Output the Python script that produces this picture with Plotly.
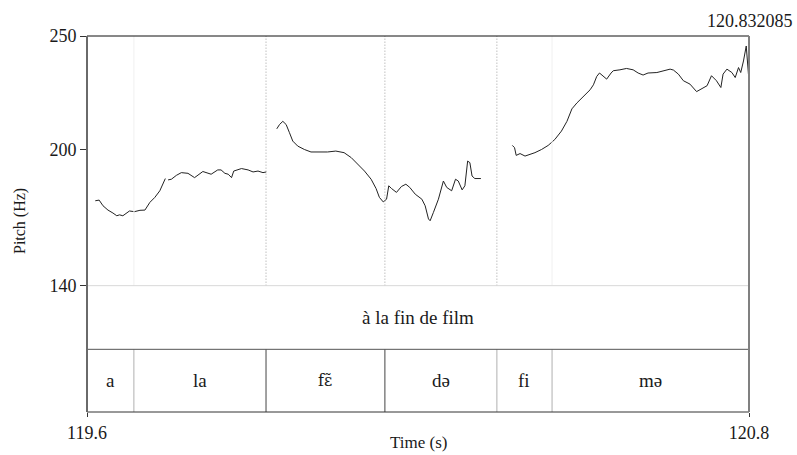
import plotly.graph_objects as go

# ---- data ----
# pitch contour (time in s, F0 in Hz); None marks unvoiced gaps
seg1_t = [119.615, 119.622, 119.629, 119.638, 119.647, 119.654, 119.659, 119.665, 119.677, 119.686,
          119.696, 119.705, 119.714, 119.723, 119.732, 119.738, 119.742, None, 119.747, 119.753,
          119.762, 119.771, 119.783, 119.795, 119.810, 119.825, 119.837, 119.843, 119.850, 119.856,
          119.862, 119.866, 119.880, 119.892, 119.901, 119.910, 119.919, 119.925]
seg1_f = [177.4, 177.7, 175.2, 173.3, 172.0, 170.8, 171.2, 170.8, 172.9, 172.6,
          173.2, 173.3, 176.7, 178.9, 181.8, 185.4, 187.2, None, 186.6, 186.9,
          188.6, 189.8, 189.5, 187.6, 190.3, 189.1, 191.0, 191.0, 189.5, 189.1,
          187.6, 190.5, 191.6, 191.0, 190.1, 190.5, 189.8, 190.1]

seg2_t = [119.944, 119.949, 119.955, 119.961, 119.967, 119.973, 119.982, 119.994, 120.006, 120.021,
          120.036, 120.051, 120.066, 120.079, 120.091, 120.103, 120.115, 120.124, 120.130, 120.137,
          120.143, 120.147, 120.152, 120.161, 120.170, 120.178, 120.185, 120.195, 120.207, 120.213,
          120.219, 120.222, 120.228, 120.237, 120.246, 120.252, 120.261, 120.268, 120.273, 120.280,
          120.285, 120.290, 120.294, 120.298, 120.303, 120.314]
seg2_f = [209.1, 211.0, 212.4, 211.0, 207.4, 203.7, 201.5, 200.0, 198.9, 198.9,
          198.9, 199.3, 198.6, 196.4, 193.5, 190.5, 186.9, 182.8, 178.9, 176.9,
          178.1, 184.0, 182.8, 181.1, 183.7, 184.7, 183.3, 180.3, 178.1, 175.2,
          169.4, 168.6, 172.3, 178.1, 186.1, 183.3, 181.8, 186.9, 186.1, 182.2,
          184.0, 194.9, 194.2, 188.3, 187.2, 187.2]

seg3_t = [120.371, 120.375, 120.378, 120.385, 120.394, 120.403, 120.412, 120.424, 120.436, 120.448,
          120.460, 120.470, 120.479, 120.488, 120.500, 120.512, 120.518, 120.524, 120.529, 120.536,
          120.542, 120.550, 120.554, 120.566, 120.578, 120.590, 120.599, 120.608, 120.617, 120.633,
          120.645, 120.657, 120.663, 120.672, 120.681, 120.693, 120.705, 120.714, 120.724, 120.732,
          120.741, 120.749, 120.753, 120.760, 120.769, 120.775, 120.781, 120.785, 120.790, 120.795,
          120.798, 120.799]
seg3_f = [201.8, 200.8, 197.4, 198.2, 197.1, 197.8, 198.6, 200.0, 201.8, 204.4,
          208.1, 212.4, 217.9, 220.5, 223.4, 226.3, 228.5, 232.2, 233.7, 232.2,
          231.0, 233.7, 234.7, 235.1, 235.7, 235.1, 233.7, 232.8, 233.7, 233.9,
          234.7, 235.4, 235.0, 233.2, 230.3, 228.8, 225.5, 226.9, 228.1, 232.5,
          230.3, 227.3, 233.2, 235.4, 233.9, 231.7, 236.1, 233.9, 239.0, 245.6,
          236.9, 233.2]

# syllable tier
syll_bounds = [119.6, 119.685, 119.9245, 120.140, 120.343, 120.443, 120.8]
syll_labels = ["a", "la", "fɛ̃", "də", "fi", "mə"]
syll_strong = [False, True, True, False, False]   # inner boundaries: dark or light
pitch_dotted = [False, True, True, True, False]   # dotted line in pitch area
word_label = "à la fin de film"

t_start, t_end = 119.6, 120.8
f_min, f_max = 140, 250
y_ticks = [140, 200, 250]
x_ticks = [119.6, 120.8]
cursor_label = "120.832085"

# ---- figure ----
FONT = "Times New Roman, Liberation Serif, DejaVu Serif, serif"
FONT_IPA = "DejaVu Serif, serif"
TXT = "#1a1a1a"
pitch_bottom = 0.336
tier_split = 0.1667

t_all = seg1_t + [None] + seg2_t + [None] + seg3_t
f_all = seg1_f + [None] + seg2_f + [None] + seg3_f

fig = go.Figure()
fig.add_trace(go.Scatter(x=t_all, y=f_all, mode="lines",
                         line=dict(color="#222222", width=1), connectgaps=False,
                         hoverinfo="skip", showlegend=False))

shapes = []
inner = syll_bounds[1:-1]
for b, strong, dotted in zip(inner, syll_strong, pitch_dotted):
    if dotted:
        shapes.append(dict(type="line", xref="x", yref="paper", x0=b, x1=b,
                           y0=pitch_bottom, y1=1,
                           line=dict(color="#a0a0a0", width=1, dash="1px,2px")))
    else:
        shapes.append(dict(type="line", xref="x", yref="paper", x0=b, x1=b,
                           y0=pitch_bottom, y1=1, line=dict(color="#f0f0f0", width=1)))
    shapes.append(dict(type="line", xref="x", yref="paper", x0=b, x1=b,
                       y0=0, y1=tier_split,
                       line=dict(color="#444444" if strong else "#b0b0b0", width=1)))

shapes.append(dict(type="line", xref="paper", yref="paper", x0=0, x1=1,
                   y0=pitch_bottom, y1=pitch_bottom, line=dict(color="#d8d8d8", width=1)))
shapes.append(dict(type="line", xref="paper", yref="paper", x0=0, x1=1,
                   y0=tier_split, y1=tier_split, line=dict(color="#555555", width=1)))
shapes.append(dict(type="line", xref="paper", yref="paper", x0=0, x1=1, y0=1, y1=1,
                   line=dict(color="#111111", width=1)))
shapes.append(dict(type="line", xref="paper", yref="paper", x0=0, x1=1, y0=0, y1=0,
                   line=dict(color="#333333", width=1)))
shapes.append(dict(type="line", xref="paper", yref="paper", x0=0, x1=0, y0=0, y1=1,
                   line=dict(color="#6a6a6a", width=2)))
shapes.append(dict(type="line", xref="paper", yref="paper", x0=1, x1=1, y0=0, y1=1,
                   line=dict(color="#808080", width=2)))

W, H = 662, 378  # plot area size in px
def px(xp, yp):
    return (xp - 87) / W, (414 - yp) / H

annotations = []
for i, lab in enumerate(syll_labels):
    mid = (syll_bounds[i] + syll_bounds[i + 1]) / 2
    ipa = any(ord(c) > 0x2FF for c in lab)
    annotations.append(dict(x=mid, y=tier_split / 2, xref="x", yref="paper", text=lab,
                            showarrow=False, xanchor="center", yanchor="middle",
                            font=dict(family=FONT_IPA if "\u0303" in lab else FONT,
                                      size=16 if "\u0303" in lab else 19, color=TXT)))
annotations.append(dict(x=(t_start + t_end) / 2, y=(tier_split + pitch_bottom) / 2,
                        xref="x", yref="paper", text=word_label, showarrow=False,
                        xanchor="center", yanchor="middle",
                        font=dict(family=FONT, size=19, color=TXT)))
cx, cy = px(795, 21)
annotations.append(dict(x=cx, y=cy, xref="paper", yref="paper", text=cursor_label,
                        showarrow=False, xanchor="right", yanchor="middle",
                        font=dict(family=FONT, size=18, color=TXT)))
cx, cy = px(20, 222)
annotations.append(dict(x=cx, y=cy, xref="paper", yref="paper", text="Pitch (Hz)",
                        textangle=-90, showarrow=False, xanchor="center", yanchor="middle",
                        font=dict(family=FONT, size=16, color=TXT)))
cx, cy = px(418, 445)
annotations.append(dict(x=cx, y=cy, xref="paper", yref="paper", text="Time (s)",
                        showarrow=False, xanchor="center", yanchor="middle",
                        font=dict(family=FONT, size=17, color=TXT)))

fig.update_layout(
    width=797, height=455,
    margin=dict(l=87, r=48, t=36, b=41),
    paper_bgcolor="white", plot_bgcolor="white",
    shapes=shapes, annotations=annotations,
    xaxis=dict(range=[t_start, t_end], anchor="free", position=0,
               tickvals=x_ticks, ticktext=[str(v) for v in x_ticks],
               ticks="outside", ticklen=4, tickcolor="#333333", showline=False,
               showgrid=False, zeroline=False,
               tickfont=dict(family=FONT, size=18, color=TXT)),
    yaxis=dict(domain=[pitch_bottom, 1], range=[f_min, f_max],
               tickvals=y_ticks, ticks="outside", ticklen=6, tickcolor="#333333",
               showline=False, showgrid=False, zeroline=False,
               tickfont=dict(family=FONT, size=18, color=TXT)),
)

fig.write_html("out.html")
